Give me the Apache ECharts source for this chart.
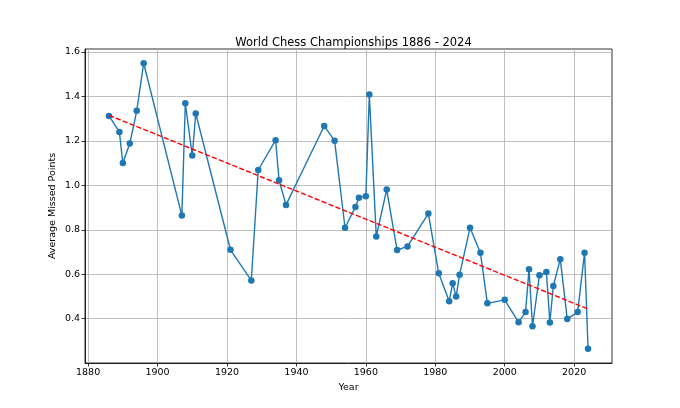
<!DOCTYPE html>
<html>
<head>
<meta charset="utf-8">
<script src="https://cdn.jsdelivr.net/npm/echarts@6/dist/echarts.min.js"></script>
<style>html,body{margin:0;padding:0;background:#fff}#c{width:680px;height:408px}</style>
</head>
<body>
<div id="c"></div>
<script>
const years = [1886,1889,1890,1892,1894,1896,1907,1908,1910,1911,1921,1927,1929,1934,1935,1937,1948,1951,1954,1957,1958,1960,1961,1963,1966,1969,1972,1978,1981,1984,1985,1986,1987,1990,1993,1995,2000,2004,2006,2007,2008,2010,2012,2013,2014,2016,2018,2021,2023,2024];
const missed = [1.312,1.240,1.100,1.188,1.335,1.549,0.864,1.369,1.134,1.323,0.710,0.572,1.069,1.203,1.023,0.912,1.267,1.200,0.809,0.903,0.944,0.951,1.408,0.770,0.981,0.709,0.725,0.873,0.604,0.479,0.559,0.500,0.598,0.809,0.697,0.469,0.485,0.384,0.430,0.623,0.366,0.595,0.610,0.383,0.547,0.668,0.399,0.430,0.697,0.265];
const trendYears = [1886, 2024];
const trendValues = [1.315, 0.444];
const xTicks = [1880,1900,1920,1940,1960,1980,2000,2020];
const yTicks = [0.4,0.6,0.8,1.0,1.2,1.4,1.6];

const xMinD = Math.min(...years), xMaxD = Math.max(...years);
const yMinD = Math.min(...missed), yMaxD = Math.max(...missed);
const xPad = (xMaxD - xMinD) * 0.05, yPad = (yMaxD - yMinD) * 0.05;

const font = 'DejaVu Sans';
const chart = echarts.init(document.getElementById('c'), null, {renderer: 'canvas'});
chart.setOption({
  animation: false,
  backgroundColor: '#fff',
  title: {
    text: 'World Chess Championships 1886 - 2024',
    left: 348.5, textAlign: 'center', top: 32,
    textStyle: {fontFamily: font, fontSize: 11.5, fontWeight: 'normal', color: '#000'}
  },
  grid: {left: 85, right: 68, top: 49, bottom: 45, show: true, borderColor: '#000', borderWidth: 0.8, backgroundColor: 'transparent'},
  xAxis: {
    type: 'value', min: xMinD - xPad, max: xMaxD + xPad,
    name: 'Year', nameLocation: 'middle', nameGap: 20, nameMoveOverlap: false,
    nameTextStyle: {fontFamily: font, fontSize: 9.5, color: '#000'},
    axisLine: {show: true, lineStyle: {color: '#000', width: 0.8}},
    axisTick: {show: true, length: 3.5, lineStyle: {color: '#000', width: 0.8}, customValues: xTicks},
    axisLabel: {fontFamily: font, fontSize: 9.5, color: '#000', margin: 5, customValues: xTicks, formatter: v => String(Math.round(v))},
    splitLine: {show: true, lineStyle: {color: '#b0b0b0', width: 0.8}, customValues: xTicks}
  },
  yAxis: {
    type: 'value', min: yMinD - yPad, max: yMaxD + yPad,
    name: 'Average Missed Points', nameLocation: 'middle', nameGap: 27, nameMoveOverlap: false,
    nameTextStyle: {fontFamily: font, fontSize: 9.5, color: '#000'},
    axisLine: {show: true, lineStyle: {color: '#000', width: 0.8}},
    axisTick: {show: true, length: 3.5, lineStyle: {color: '#000', width: 0.8}, customValues: yTicks},
    axisLabel: {fontFamily: font, fontSize: 9.5, color: '#000', margin: 5, customValues: yTicks, formatter: v => v.toFixed(1)},
    splitLine: {show: true, lineStyle: {color: '#b0b0b0', width: 0.8}, customValues: yTicks}
  },
  series: [
    {
      type: 'line', data: years.map((y, i) => [y, missed[i]]),
      symbol: 'circle', symbolSize: 6.5, showSymbol: true,
      lineStyle: {color: '#1f77b4', width: 1.4},
      itemStyle: {color: '#1f77b4', borderWidth: 0},
      z: 3
    },
    {
      type: 'line', data: trendYears.map((y, i) => [y, trendValues[i]]),
      symbol: 'none',
      lineStyle: {color: '#ff0000', width: 1.4, type: [5.2, 2.2]},
      z: 4
    }
  ]
});
</script>
</body>
</html>
